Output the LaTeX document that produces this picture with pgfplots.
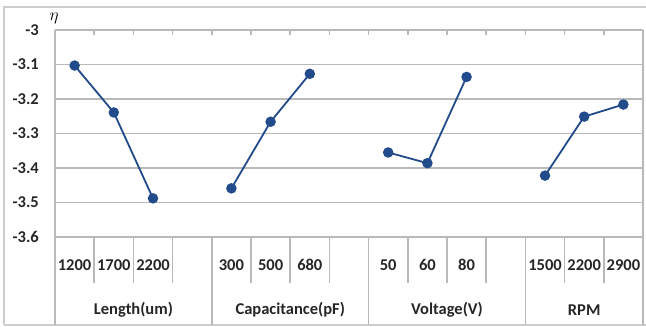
\documentclass[border=0pt]{standalone}
\usepackage{fontspec}
\setmainfont{Carlito}
\usepackage{pgfplots}
\pgfplotsset{compat=1.18}
\definecolor{lineblue}{RGB}{33,75,138}
\definecolor{gridc}{RGB}{185,185,185}
\definecolor{borderc}{RGB}{205,205,205}
\begin{document}
\begin{tikzpicture}[x=1pt,y=1pt]
\path[use as bounding box] (0,0) rectangle (646,327);
\draw[borderc, line width=1.4pt] (4,2) -- (4,320) -- (646,320);
\draw[borderc, line width=1.4pt] (4,2) -- (646,2);
\begin{axis}[
  at={(55pt,90pt)}, anchor=south west,
  scale only axis, width=588pt, height=207pt,
  xmin=0, xmax=15, ymin=-3.6, ymax=-3,
  clip=false,
  /pgf/number format/assume math mode=true,
  axis line style={draw=none},
  ytick={-3.6,-3.5,-3.4,-3.3,-3.2,-3.1,-3},
  yticklabels={-3.6,-3.5,-3.4,-3.3,-3.2,-3.1,-3},
  xtick={0.5,1.5,2.5,4.5,5.5,6.5,8.5,9.5,10.5,12.5,13.5,14.5},
  xticklabels={1200,1700,2200,300,500,680,50,60,80,1500,2200,2900},
  major tick length=0pt,
  tick label style={font=\fontsize{16.5}{18}\selectfont\bfseries, text=black!85},
  xticklabel style={anchor=center, yshift=-28pt},
  yticklabel style={anchor=east, inner sep=0pt, xshift=-16pt},
]
\pgfplotsinvokeforeach{-3.6,-3.5,-3.4,-3.3,-3.2,-3.1,-3}{
  \draw[gridc, line width=1.6pt] (axis cs:0,#1) -- (axis cs:15,#1);
}
\pgfplotsinvokeforeach{1,2,3,5,6,7,9,10,11,13,14}{
  \draw[gridc, line width=1.6pt] (axis cs:#1,-3.6) -- ([yshift=-46pt]axis cs:#1,-3.6);
}
\pgfplotsinvokeforeach{4,8,12}{
  \draw[gridc, line width=1.6pt] (axis cs:#1,-3.6) -- ([yshift=-88pt]axis cs:#1,-3.6);
}
\pgfplotsinvokeforeach{0,15}{
  \draw[gridc, line width=1.6pt] (axis cs:#1,-3) -- ([yshift=-88pt]axis cs:#1,-3.6);
}
\pgfplotsinvokeforeach{1,2,3,4,5,6,7,8,9,10,11,12,13,14}{
  \draw[gridc, line width=1.6pt] (axis cs:#1,-3) -- ([yshift=-4.5pt]axis cs:#1,-3);
}
\node[font=\fontsize{16.5}{18}\selectfont\bfseries, text=black!85] at (axis cs:2,-3.6) [yshift=-73pt] {Length(um)};
\node[font=\fontsize{16.5}{18}\selectfont\bfseries, text=black!85] at (axis cs:6,-3.6) [yshift=-73pt] {Capacitance(pF)};
\node[font=\fontsize{16.5}{18}\selectfont\bfseries, text=black!85] at (axis cs:10,-3.6) [yshift=-73pt] {Voltage(V)};
\node[font=\fontsize{16.5}{18}\selectfont\bfseries, text=black!85] at (axis cs:13.5,-3.6) [yshift=-73pt] {RPM};
\addplot[lineblue, line width=1.8pt, mark=*, mark size=4.3pt, mark options={fill=lineblue}] coordinates {(0.5,-3.103) (1.5,-3.239) (2.5,-3.488)};
\addplot[lineblue, line width=1.8pt, mark=*, mark size=4.3pt, mark options={fill=lineblue}] coordinates {(4.5,-3.459) (5.5,-3.266) (6.5,-3.127)};
\addplot[lineblue, line width=1.8pt, mark=*, mark size=4.3pt, mark options={fill=lineblue}] coordinates {(8.5,-3.355) (9.5,-3.386) (10.5,-3.136)};
\addplot[lineblue, line width=1.8pt, mark=*, mark size=4.3pt, mark options={fill=lineblue}] coordinates {(12.5,-3.422) (13.5,-3.251) (14.5,-3.216)};
\end{axis}
\node at (54,309) {\fontsize{18}{18}\selectfont$\eta$};
\end{tikzpicture}
\end{document}
